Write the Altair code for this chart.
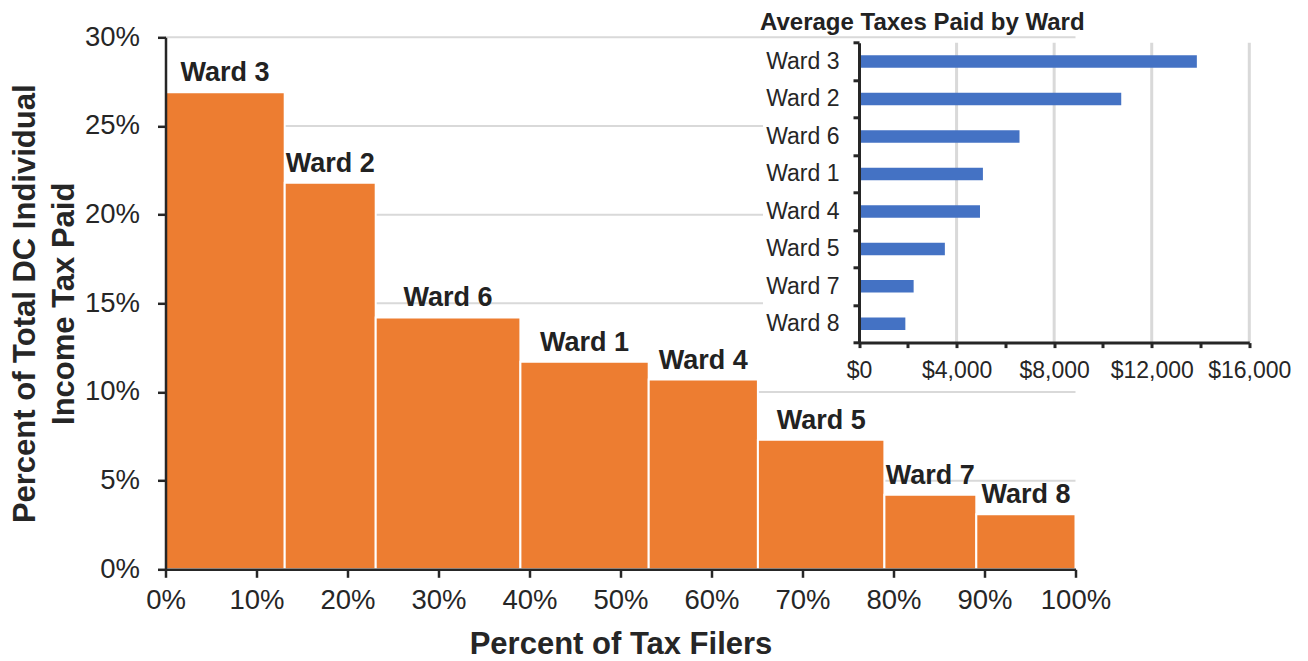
import altair as alt
import pandas as pd

# ---------------- data ----------------
wards = ["Ward 3", "Ward 2", "Ward 6", "Ward 1", "Ward 4", "Ward 5", "Ward 7", "Ward 8"]
filer_share = [13.1, 10.0, 15.9, 14.1, 12.0, 13.9, 10.1, 10.9]   # % of tax filers (bar widths)
tax_share = [26.9, 21.8, 14.2, 11.7, 10.7, 7.3, 4.2, 3.1]        # % of total tax paid (bar heights)
avg_tax = [13850, 10750, 6580, 5080, 4960, 3520, 2240, 1900]     # average taxes paid ($)
pct_x_ticks = [0, 10, 20, 30, 40, 50, 60, 70, 80, 90, 100]
pct_y_ticks = [0, 5, 10, 15, 20, 25, 30]
pct_y_grid = [5, 10, 15, 20, 25, 30]
dollar_ticks = [0, 2000, 4000, 6000, 8000, 10000, 12000, 14000, 16000]
dollar_grid = [4000, 8000, 12000, 16000]
inset_title = "Average Taxes Paid by Ward"

starts, ends = [], []
acc = 0.0
for w in filer_share:
    starts.append(acc)
    acc += w
    ends.append(acc)

main_df = pd.DataFrame({
    "ward": wards,
    "start": starts,
    "end": ends,
    "mid": [(a + b) / 2 for a, b in zip(starts, ends)],
    "tax": tax_share,
})
ygrid_df = pd.DataFrame({"tax": pct_y_grid})
inset_df = pd.DataFrame({"ward": wards, "avg": avg_tax})
grid_df = pd.DataFrame({"g": dollar_grid})

# ---------------- layout / style ----------------
FONT = "Liberation Sans"
TXT = "#262626"
ORANGE = "#ED7D31"
BLUE = "#4472C4"
GRID = "#d9d9d9"

W, H = 910, 532
PAD_L, PAD_T = 157.5, 29.3
TOTAL_W, TOTAL_H = 1292, 653

# inset plot rectangle (in plot-area pixels)
IN_L, IN_R = 693.5, 1083.8
IN_T, IN_B = 5.4, 305.3
IN_BAR = 12.5

# ---------------- main Marimekko ----------------
x_main = alt.X(
    "start:Q",
    scale=alt.Scale(domain=[0, 100], nice=False),
    axis=alt.Axis(
        values=pct_x_ticks, labelExpr="datum.value + '%'", grid=False,
        labelFontSize=27.5, labelColor=TXT, labelPadding=9, labelFlush=False, labelOverlap=False,
        tickSize=8, tickWidth=2.5, tickColor=TXT, domainColor=TXT, domainWidth=2.5,
        title="Percent of Tax Filers", titleFontSize=31, titleFontWeight="bold",
        titleColor=TXT, titlePadding=16, zindex=1,
    ),
)
y_main = alt.Y(
    "tax:Q",
    scale=alt.Scale(domain=[0, 30], nice=False),
    axis=alt.Axis(
        values=pct_y_ticks, labelExpr="datum.value + '%'", grid=False,
        labelFontSize=27.5, labelColor=TXT, labelPadding=18, labelFlush=False, labelOverlap=False,
        tickSize=8, tickWidth=2.5, tickColor=TXT, domainColor=TXT, domainWidth=2.5,
        title=["Percent of Total DC Individual", "Income Tax Paid"],
        titleFontSize=31, titleFontWeight="bold", titleColor=TXT,
        titlePadding=4, titleLineHeight=39, zindex=1,
    ),
)

ygrid = alt.Chart(ygrid_df).mark_rule(color=GRID, strokeWidth=2).encode(y=y_main)

base = alt.Chart(main_df)
bars = base.mark_rect(color=ORANGE, stroke="white", strokeWidth=2).encode(
    x=x_main, x2="end:Q", y=y_main, y2=alt.datum(0)
)
labels = base.mark_text(
    font=FONT, fontSize=27, fontWeight="bold", color="#222222",
    baseline="alphabetic", dy=-11,
).encode(x="mid:Q", y="tax:Q", text="ward:N")
main = alt.layer(ygrid, bars, labels)

# ---------------- inset background panel + title ----------------
panel_src = alt.Chart(pd.DataFrame({"t": [inset_title]}))
panel = panel_src.mark_rect(color="white").encode(
    x=alt.value(597.5), x2=alt.value(925), y=alt.value(2), y2=alt.value(340)
)
title_txt = panel_src.mark_text(
    font=FONT, fontSize=24, fontWeight="bold", color="#222222",
    align="left", baseline="alphabetic",
).encode(x=alt.value(594.5), y=alt.value(-7.3), text="t:N")

# ---------------- inset bar chart ----------------
x_in_scale = alt.Scale(domain=[0, 16000], range=[IN_L, IN_R], nice=False, zero=True)
x_in_axis = alt.Axis(
    orient="bottom", offset=-(H - IN_B), values=dollar_ticks,
    labelExpr="datum.value % 4000 === 0 ? '$' + format(datum.value, ',') : ''",
    grid=False, labelFontSize=23, labelColor=TXT, labelPadding=12,
    labelFlush=False, labelOverlap=False,
    tickSize=5, tickWidth=3, tickColor=TXT, domainColor=TXT, domainWidth=3,
    title=None, zindex=1,
)
y_in = alt.Y(
    "ward:N", sort=wards,
    scale=alt.Scale(domain=wards, range=[IN_T, IN_B], paddingInner=0, paddingOuter=0),
    axis=alt.Axis(
        orient="left", offset=-IN_L, grid=False, tickBand="extent",
        labelFontSize=23, labelColor=TXT, labelPadding=14,
        tickSize=6, tickWidth=3, tickColor=TXT, domainColor=TXT, domainWidth=3,
        title=None, zindex=1,
    ),
)

grid_rules = alt.Chart(grid_df).mark_rule(color=GRID, strokeWidth=3).encode(
    x=alt.X("g:Q", scale=x_in_scale, axis=x_in_axis),
    y=alt.value(IN_T), y2=alt.value(IN_B),
)
inset_bars = alt.Chart(inset_df).mark_bar(color=BLUE, size=IN_BAR).encode(
    x=alt.X("avg:Q", scale=x_in_scale, axis=x_in_axis),
    y=y_in,
)
inset = alt.layer(grid_rules, inset_bars)

chart = alt.layer(main, panel, title_txt, inset).resolve_scale(
    x="independent", y="independent"
).properties(
    width=W, height=H,
    autosize=alt.AutoSizeParams(type="none"),
    padding={"left": PAD_L, "top": PAD_T, "right": TOTAL_W - PAD_L - W, "bottom": TOTAL_H - PAD_T - H},
).configure(
    font=FONT,
).configure_view(
    stroke=None
).configure_axis(
    labelFont=FONT, titleFont=FONT
)

chart.save("out.html", embed_options={"renderer": "svg", "actions": False})
